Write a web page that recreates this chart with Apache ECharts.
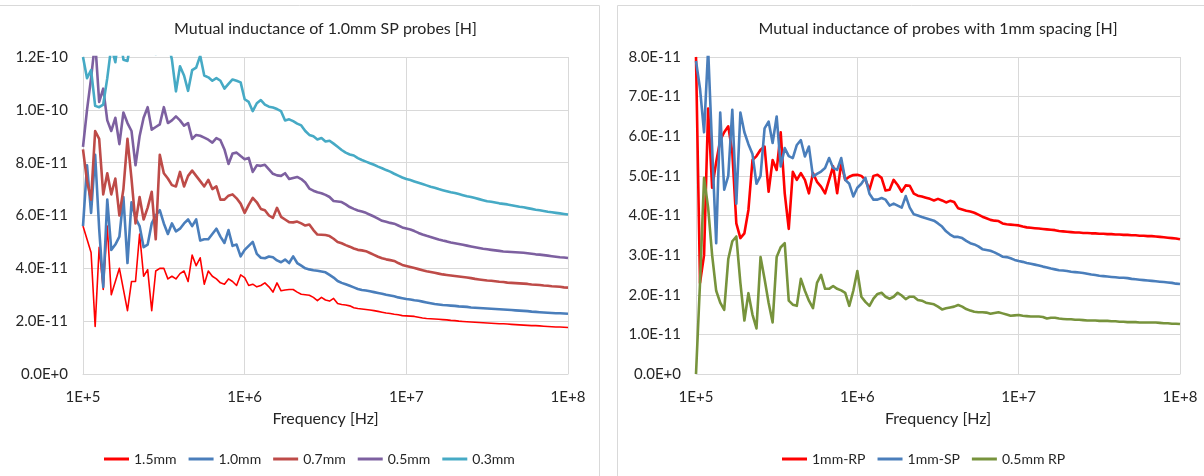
<!DOCTYPE html>
<html><head><meta charset="utf-8">
<script src="https://cdn.jsdelivr.net/npm/echarts@6/dist/echarts.min.js"></script>
<style>html,body{margin:0;padding:0;background:#fff}#c{width:1204px;height:476px}</style>
</head><body><div id="c"></div>
<script>
// Frequency sweep points [Hz] (log-spaced, 40 per decade)
const freq = [
1.000e5,1.059e5,1.122e5,1.189e5,1.259e5,1.334e5,1.413e5,1.496e5,1.585e5,1.679e5,
1.778e5,1.884e5,1.995e5,2.113e5,2.239e5,2.371e5,2.512e5,2.661e5,2.818e5,2.985e5,
3.162e5,3.350e5,3.548e5,3.758e5,3.981e5,4.217e5,4.467e5,4.732e5,5.012e5,5.309e5,
5.623e5,5.957e5,6.310e5,6.683e5,7.079e5,7.499e5,7.943e5,8.414e5,8.913e5,9.441e5,
1.000e6,1.059e6,1.122e6,1.189e6,1.259e6,1.334e6,1.413e6,1.496e6,1.585e6,1.679e6,
1.778e6,1.884e6,1.995e6,2.113e6,2.239e6,2.371e6,2.512e6,2.661e6,2.818e6,2.985e6,
3.162e6,3.350e6,3.548e6,3.758e6,3.981e6,4.217e6,4.467e6,4.732e6,5.012e6,5.309e6,
5.623e6,5.957e6,6.310e6,6.683e6,7.079e6,7.499e6,7.943e6,8.414e6,8.913e6,9.441e6,
1.000e7,1.059e7,1.122e7,1.189e7,1.259e7,1.334e7,1.413e7,1.496e7,1.585e7,1.679e7,
1.778e7,1.884e7,1.995e7,2.113e7,2.239e7,2.371e7,2.512e7,2.661e7,2.818e7,2.985e7,
3.162e7,3.350e7,3.548e7,3.758e7,3.981e7,4.217e7,4.467e7,4.732e7,5.012e7,5.309e7,
5.623e7,5.957e7,6.310e7,6.683e7,7.079e7,7.499e7,7.943e7,8.414e7,8.913e7,9.441e7,
1.000e8];

// Left chart: mutual inductance of 1.0mm SP probes, values in units of 1E-11 H
const sp15 = [5.6,5.1,4.6,1.8,4.8,3.2,5.6,3.0,3.5,4.0, 3.2,2.4,3.5,3.5,5.3,3.7,3.95,2.4,3.9,4.0,
4.0,3.6,3.7,3.6,3.8,3.9,3.5,4.5,4.1,4.4, 3.4,3.9,3.7,3.6,3.45,3.4,3.6,3.5,3.35,3.75, 3.65,
3.35,3.4,3.3,3.35,3.45,3.3,3.1,3.45,3.15,3.18, 3.2,3.2,3.1,3.02,3.0,2.98,2.9,2.78,2.9,2.8,
2.76,2.86,2.67,2.63,2.61,2.58,2.51,2.48,2.46,2.44, 2.42,2.4,2.37,2.34,2.31,2.29,2.26,2.24,2.21,2.2,
2.19,2.18,2.15,2.12,2.1,2.09,2.08,2.07,2.06,2.05, 2.03,2.02,2.0,1.99,1.98,1.97,1.96,1.95,1.94,1.93,
1.92,1.91,1.9,1.9,1.89,1.88,1.87,1.86,1.85,1.84, 1.83,1.83,1.82,1.81,1.8,1.79,1.78,1.78,1.77,1.76];
const sp10 = [5.6,7.9,6.1,8.3,5.5,3.3,6.6,4.7,4.9,5.2, 6.7,4.2,6.5,5.9,5.6,4.8,4.9,5.7,6.0,6.2,
5.7,5.3,5.7,5.4,5.5,5.7,5.85,5.6,5.85,5.05, 5.1,5.1,5.3,5.5,5.2,4.96,5.45,4.85,4.9,4.45,
4.7,4.85,5.0,4.55,4.4,4.38,4.45,4.42,4.3,4.23, 4.33,4.2,4.45,4.2,4.1,
4.0,3.96,3.93,3.91,3.88,3.85,3.75,3.65,3.52,3.45, 3.4,3.34,3.28,3.22,3.18,3.16,3.13,3.1,3.07,3.04,
3.0,2.97,2.94,2.9,2.87,2.84,2.82,2.79,2.77,2.74, 2.71,2.68,2.65,2.63,2.61,2.6,2.59,2.58,2.56,2.55,
2.54,2.52,2.51,2.5,2.49,2.48,2.47,2.46,2.45,2.44, 2.43,2.42,2.41,2.4,2.39,2.38,2.36,2.35,2.34,2.33,
2.32,2.31,2.3,2.3,2.29,2.28];
const sp07 = [8.5,7.3,6.6,9.2,8.9,6.8,7.6,6.8,7.4,6.0, 7.0,8.9,7.4,5.7,6.7,5.85,6.3,6.9,5.1,8.3,
7.6,7.4,7.15,7.1,7.65,7.1,7.5,7.7,7.5,7.3, 7.1,7.35,7.0,7.1,6.6,6.6,6.75,6.8,6.65,
6.45,6.1,6.4,6.67,6.5,6.25,6.2,6.0,5.91,6.29, 5.95,5.85,5.75,5.74,5.77,5.7,5.62,5.66,5.45,5.28,
5.27,5.26,5.22,5.12,5.0,4.95,4.88,4.82,4.75,4.7, 4.68,4.65,4.58,4.51,4.44,4.38,4.34,4.31,4.28,4.2,
4.13,4.09,4.05,4.01,3.97,3.93,3.89,3.86,3.83,3.8, 3.77,3.75,3.73,3.71,3.69,3.67,3.65,3.63,3.6,3.58,
3.56,3.54,3.53,3.51,3.49,3.48,3.46,3.45,3.44,3.43, 3.42,3.41,3.39,3.38,3.37,3.35,3.34,3.32,3.31,3.3,
3.28,3.27];
const sp05 = [8.6,10.0,11.2,12.6,10.3,10.8,9.6,9.2,9.7,8.7, 9.9,9.5,9.2,7.9,9.0,9.7,10.1,9.25,9.35,9.45,
10.1,9.5,9.6,9.75,9.6,9.4,9.5,8.9,9.05,9.02, 8.95,8.87,8.76,8.93,8.85,8.5,7.95,8.35,8.38,8.25,
8.13,8.18,
7.65,7.9,7.88,7.92,7.75,7.58,7.52,7.5,7.6,7.38, 7.42,7.46,7.38,7.25,7.02,6.94,6.88,6.84,6.78,6.7,
6.55,6.53,6.51,6.42,6.32,6.25,6.19,6.15,6.1,6.03, 5.96,5.88,5.8,5.76,5.72,5.69,5.62,5.55,5.51,5.47,
5.41,5.34,5.28,5.23,5.19,5.14,5.09,5.05,5.02,4.98, 4.95,4.92,4.89,4.86,4.83,4.8,4.77,4.74,4.72,4.7,
4.68,4.66,4.64,4.63,4.62,4.61,4.6,4.59,4.57,4.55, 4.53,4.52,4.5,4.48,4.46,4.44,4.42,4.41,4.39];
const sp03 = [12.0,11.2,11.5,10.15,10.1,10.2,11.2,12.4,11.8,13.0, 11.9,11.85,12.8,13.5,13.0,12.6,13.2,12.9,12.1,13.0,
13.4,12.6,11.9,10.7,11.65,11.3,10.72,11.5,11.6,12.05, 11.3,11.23,11.1,11.2,11.1,10.8,10.98,11.15,11.1,11.04,
10.4,10.3,9.95,10.25,10.37,10.2,10.12,10.09,10.03,9.95, 9.6,9.64,9.57,9.48,9.41,9.2,9.05,9.0,8.88,8.93,
8.8,8.83,8.72,8.6,8.48,8.38,8.31,8.27,8.17,8.1, 8.04,7.98,7.92,7.85,7.79,7.72,7.66,7.58,7.51,7.44,
7.38,7.34,7.29,7.24,7.19,7.14,7.09,7.05,7.0,6.96, 6.92,6.88,6.85,6.81,6.77,6.73,6.7,6.66,6.62,6.58,
6.54,6.52,6.49,6.46,6.44,6.42,6.39,6.36,6.33,6.31, 6.28,6.25,6.22,6.2,6.17,6.14,6.12,6.1,6.08,6.06,
6.04];

// Right chart: probes with 1mm spacing, units of 1E-11 H
const rp1 = [8.0,2.3,3.0,6.7,4.7,5.35,5.9,6.1,6.25,5.6, 3.8,3.43,3.55,4.14,5.4,5.5,5.66,5.74,4.6,5.4,
5.15,6.1,4.56,3.66,5.1,4.9,5.07,4.9,4.56,5.07, 4.85,4.73,4.56,4.9,5.24,4.56,5.32,4.9,4.98,5.02,
5.03,5.0,4.9,4.65,5.0,5.03,4.95,4.63,4.65,4.9, 4.77,4.6,4.76,4.75,4.55,4.5,4.48,4.45,4.42,4.38,
4.42,4.38,4.33,4.37,4.34,4.18,4.15,4.12,4.1,4.07, 4.02,3.97,3.93,3.89,3.87,3.86,3.8,3.78,3.77,3.76,
3.75,3.72,3.7,3.69,3.68,3.67,3.66,3.65,3.64,3.63, 3.61,3.6,3.59,3.58,3.57,3.57,3.56,3.56,3.55,3.55,
3.54,3.54,3.53,3.53,3.52,3.52,3.51,3.51,3.5,3.5, 3.49,3.49,3.48,3.48,3.47,3.46,3.45,3.44,3.43,3.42,
3.4];
const sp1 = [7.9,7.2,6.1,8.2,5.7,3.3,6.6,4.65,5.0,6.67, 4.3,6.6,6.1,5.8,5.55,4.8,5.0,6.2,6.37,5.83,
6.5,5.24,5.7,5.5,5.45,5.78,5.9,5.49,5.74,4.98, 5.05,5.11,5.2,5.45,5.2,5.15,5.45,4.9,4.8,4.48,
4.7,4.8,4.95,4.55,4.4,4.4,4.44,4.4,4.25,4.3, 4.25,4.2,4.49,4.2,4.03,4.0,3.96,3.93,3.9,3.87,
3.8,3.72,3.6,3.52,3.46,3.46,3.43,3.36,3.3,3.27, 3.22,3.15,3.13,3.11,3.07,3.02,2.96,2.95,2.92,2.88,
2.85,2.83,2.8,2.78,2.76,2.74,2.71,2.69,2.66,2.64, 2.62,2.61,2.6,2.58,2.57,2.56,2.55,2.53,2.51,2.5,
2.48,2.47,2.46,2.45,2.44,2.43,2.43,2.42,2.4,2.39, 2.38,2.37,2.36,2.35,2.34,2.33,2.32,2.31,2.3,2.28,
2.27];
const rp05 = [0.0,2.3,4.95,4.2,3.0,2.1,1.8,1.62,2.9,3.35, 3.47,2.3,1.35,2.04,1.5,1.15,2.95,2.4,1.8,1.3,
2.95,3.2,3.3,1.85,1.75,1.72,2.4,2.1,1.85,1.66, 2.3,2.5,2.15,2.15,2.22,2.15,2.11,2.05,1.72,2.1,
2.6,1.95,1.82,1.72,1.9,2.02,2.05,1.95,1.9,1.95, 2.05,1.98,1.89,1.95,1.95,1.87,1.85,1.8,1.78,1.76,
1.7,1.63,1.66,1.68,1.7,1.74,1.7,1.64,1.6,1.57, 1.56,1.56,1.55,1.52,1.54,1.56,1.53,1.5,1.47,1.48,
1.49,1.47,1.46,1.45,1.45,1.45,1.44,1.4,1.42,1.42, 1.4,1.39,1.38,1.38,1.37,1.37,1.36,1.35,1.35,1.35,
1.34,1.34,1.34,1.33,1.33,1.32,1.32,1.31,1.31,1.31, 1.3,1.3,1.3,1.3,1.3,1.29,1.28,1.28,1.27,1.27,
1.26];

const xTickLabels = ['1E+5','1E+6','1E+7','1E+8'];
const leftNames = ['1.5mm','1.0mm','0.7mm','0.5mm','0.3mm'];
const rightNames = ['1mm-RP','1mm-SP','0.5mm RP'];
const leftTitle = 'Mutual inductance of 1.0mm SP probes [H]';
const rightTitle = 'Mutual inductance of probes with 1mm spacing [H]';
const xName = 'Frequency [Hz]';

const FONT = 'Lato, "Open Sans", sans-serif';
const TXT = '#262626';
const GRID = '#d9d9d9';
const UNIT = 1e-11;

function yFmt(v){
  if (Math.abs(v) < 1e-20) return '0.0E+0';
  const e = Math.floor(Math.log10(Math.abs(v)) + 1e-6);
  const m = v / Math.pow(10, e);
  return m.toFixed(1) + 'E' + e;
}
function xFmt(v){
  const k = Math.round(Math.log10(v)) - 5;
  return xTickLabels[k] !== undefined ? xTickLabels[k] : '';
}
function mk(name, arr, color, width, xi){
  return {
    name, type:'line', xAxisIndex:xi, yAxisIndex:xi,
    data: freq.map((f,i)=>[f, arr[i]*UNIT]),
    symbol:'none', showSymbol:false, clip:true,
    lineStyle:{color, width, join:'round'}, itemStyle:{color},
    emphasis:{disabled:true}, animation:false
  };
}
const xAxisBase = {
  type:'log', logBase:10, min:1e5, max:1e8,
  name:xName, nameLocation:'middle', nameGap:37,
  nameTextStyle:{fontFamily:FONT, fontSize:16, color:TXT},
  axisLine:{show:true, lineStyle:{color:GRID, width:1}},
  axisTick:{show:false},
  axisLabel:{formatter:xFmt, fontFamily:FONT, fontSize:15, color:TXT, margin:16},
  splitLine:{show:true, lineStyle:{color:GRID, width:1}},
  minorTick:{show:false}, minorSplitLine:{show:false}
};
const yAxisBase = {
  type:'value', min:0,
  axisLine:{show:true, lineStyle:{color:GRID, width:1}},
  axisTick:{show:false},
  axisLabel:{formatter:yFmt, fontFamily:FONT, fontSize:15, color:TXT, margin:15},
  splitLine:{show:true, lineStyle:{color:GRID, width:1}}
};
const legendBase = {
  icon:'rect', itemWidth:25, itemHeight:3, itemGap:12, top:447,
  textStyle:{fontFamily:FONT, fontSize:14, color:TXT}, selectedMode:false
};
const titleBase = {textAlign:'center', top:21, padding:0,
  textStyle:{fontFamily:FONT, fontSize:16, fontWeight:'normal', color:TXT}};

const chart = echarts.init(document.getElementById('c'), null, {renderer:'canvas'});
chart.setOption({
  backgroundColor:'#ffffff',
  animation:false,
  graphic:[
    {type:'rect', shape:{x:-1, y:5.5, width:600.5, height:480}, style:{fill:'none', stroke:GRID, lineWidth:1}, silent:true, z:-10},
    {type:'rect', shape:{x:617.5, y:5.5, width:620, height:480}, style:{fill:'none', stroke:GRID, lineWidth:1}, silent:true, z:-10}
  ],
  title:[
    Object.assign({text:leftTitle, left:325.5}, titleBase),
    Object.assign({text:rightTitle, left:938}, titleBase)
  ],
  grid:[
    {left:83, top:57, width:485, height:317},
    {left:696, top:57, width:484, height:317}
  ],
  xAxis:[
    Object.assign({gridIndex:0}, xAxisBase),
    Object.assign({gridIndex:1}, xAxisBase)
  ],
  yAxis:[
    Object.assign({gridIndex:0, max:12e-11, interval:2e-11}, yAxisBase),
    Object.assign({gridIndex:1, max:8e-11, interval:1e-11}, yAxisBase)
  ],
  legend:[
    Object.assign({data:leftNames, left:99}, legendBase),
    Object.assign({data:rightNames, left:777}, legendBase)
  ],
  series:[
    mk(leftNames[0], sp15, '#FF0000', 1.6, 0),
    mk(leftNames[1], sp10, '#4A7EBB', 2.6, 0),
    mk(leftNames[2], sp07, '#BE4B48', 2.6, 0),
    mk(leftNames[3], sp05, '#7D60A0', 2.6, 0),
    mk(leftNames[4], sp03, '#46AAC5', 2.6, 0),
    mk(rightNames[0], rp1, '#FF0000', 2.6, 1),
    mk(rightNames[1], sp1, '#4A7EBB', 2.6, 1),
    mk(rightNames[2], rp05, '#77933C', 2.6, 1)
  ]
});
</script></body></html>
